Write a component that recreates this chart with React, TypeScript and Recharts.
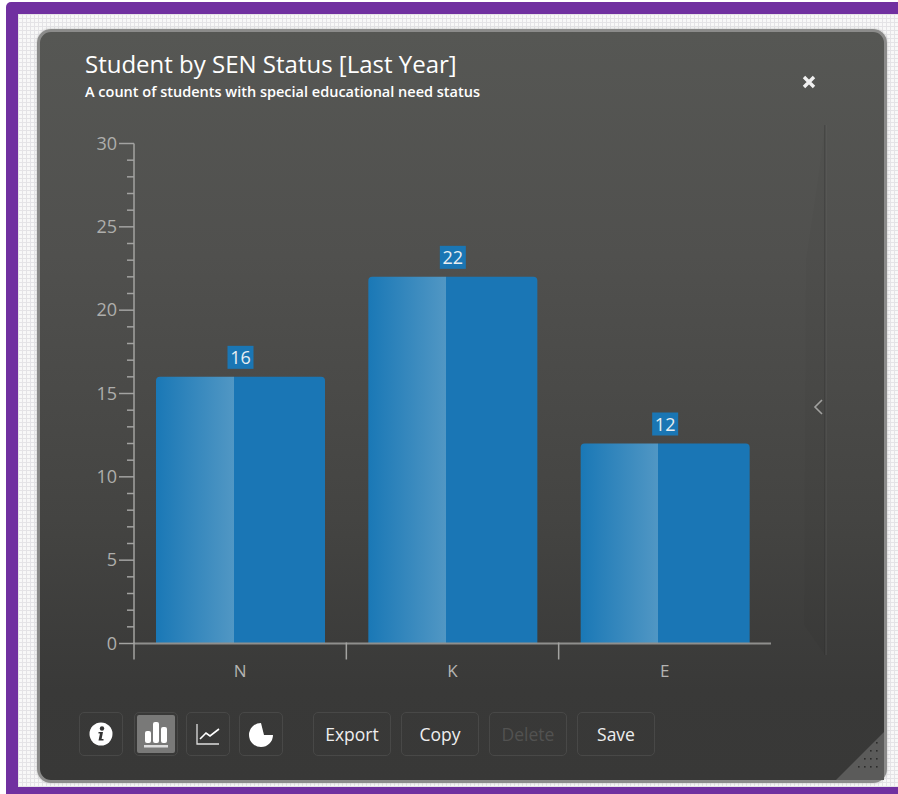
import React from 'react';
import { BarChart, Bar, XAxis, YAxis, LabelList } from 'recharts';

const senCodes = ['N', 'K', 'E'];
const studentCounts = [16, 22, 12];
const countTicks = [
  0, 1, 2, 3, 4, 5, 6, 7, 8, 9, 10, 11, 12, 13, 14, 15, 16, 17, 18, 19, 20, 21, 22, 23, 24, 25, 26, 27, 28,
  29, 30,
];
const chartTypeButtons = ['info', 'bar', 'line', 'pie'];
const actionButtons = ['Export', 'Copy', 'Delete', 'Save'];

const chartData = senCodes.map((code, i) => ({ code, count: studentCounts[i] }));

const FONT = '"Open Sans", sans-serif';
const AXIS = '#a3a3a1';
const BAND = 637 / senCodes.length;

const CountTick = ({ x, y, payload }: any) => {
  const major = payload.value % 5 === 0;
  return (
    <g>
      <line x1={major ? x - 15 : x - 7} x2={x} y1={y} y2={y} stroke={AXIS} strokeWidth={1.5} />
      {major && (
        <text x={x - 17} y={y + 6} textAnchor="end" fontFamily={FONT} fontSize={18} fill="#aeaeac">
          {payload.value}
        </text>
      )}
    </g>
  );
};

// tick marks sit on the left edge of each band, the label in its middle
const CodeTick = ({ x, y, payload }: any) => (
  <g>
    <line x1={x - BAND / 2} x2={x - BAND / 2} y1={y - 1} y2={y + 16} stroke={AXIS} strokeWidth={1.5} />
    <text x={x} y={y + 33} textAnchor="middle" fontFamily={FONT} fontSize={17} fill="#b4b4b2">
      {payload.value}
    </text>
  </g>
);

const ValueBadge = ({ x, y, width, value }: any) => {
  const cx = x + width / 2;
  return (
    <g>
      <rect x={cx - 13} y={y - 31} width={26} height={23} fill="#1a76b4" />
      <text x={cx} y={y - 13} textAnchor="middle" fontFamily={FONT} fontSize={18} fill="#e8eef2">
        {value}
      </text>
    </g>
  );
};

const ButtonIcon = ({ kind }: { kind: string }) => {
  if (kind === 'info') {
    return (
      <svg width={26} height={26} viewBox="0 0 26 26">
        <circle cx={13} cy={13} r={11.5} fill="#fff" />
        <circle cx={14} cy={7.5} r={2.2} fill="#333" />
        <path d="M10.5 11 H15 L13.6 18 H15.5 V19.5 H10.5 L12 12.5 H10.5 Z" fill="#333" />
      </svg>
    );
  }
  if (kind === 'bar') {
    return (
      <svg width={26} height={28} viewBox="0 0 26 28">
        <rect x={2} y={11} width={6} height={12} rx={2} fill="#fff" />
        <rect x={10} y={2} width={6} height={21} rx={2} fill="#fff" />
        <rect x={18} y={7} width={6} height={16} rx={2} fill="#fff" />
        <rect x={1} y={25} width={24} height={2.5} fill="#ddd" />
      </svg>
    );
  }
  if (kind === 'line') {
    return (
      <svg width={26} height={24} viewBox="0 0 26 24">
        <path d="M2 2 V22 H24" fill="none" stroke="#ddd" strokeWidth={1.3} />
        <path d="M5 17 L11 11 L15 14 L24 7" fill="none" stroke="#fff" strokeWidth={1.6} />
      </svg>
    );
  }
  return (
    <svg width={26} height={26} viewBox="0 0 26 26">
      <path d="M13 2 A12 12 0 1 0 25 14 L16 14 L13 2 Z" fill="#fff" />
    </svg>
  );
};

const buttonBase: React.CSSProperties = {
  position: 'absolute',
  top: 712,
  height: 44,
  boxSizing: 'border-box',
  border: '1px solid #484847',
  borderRadius: 5,
  display: 'flex',
  alignItems: 'center',
  justifyContent: 'center',
};

const typeButtonLeft = [79, 134, 186, 239];
const actionButtonLeft = [313, 401, 489, 577];
const actionButtonWidth = [78, 78, 78, 78];
const gripDots = [[40, 10], [34, 18], [40, 18], [28, 26], [34, 26], [40, 26], [22, 34], [28, 34], [34, 34], [40, 34]];

export default function App() {
  return (
    <div
      style={{
        position: 'absolute',
        left: 0,
        top: 0,
        width: 898,
        height: 794,
        overflow: 'hidden',
        background: '#fff',
        fontFamily: FONT,
      }}
    >
      {/* purple page frame */}
      <div style={{ position: 'absolute', left: 6, top: 2, width: 892, height: 792, background: '#7030a0', borderRadius: '5px 0 0 0' }} />
      {/* dotted page background */}
      <div
        style={{
          position: 'absolute',
          left: 18,
          top: 14,
          width: 880,
          height: 773,
          backgroundColor: '#f8f8f8',
          backgroundImage:
            'linear-gradient(#e4e3e6 1px, transparent 1px), linear-gradient(90deg, #e4e3e6 1px, transparent 1px)',
          backgroundSize: '4px 4px',
        }}
      />
      {/* dialog panel */}
      <div
        style={{
          position: 'absolute',
          left: 37,
          top: 29,
          width: 850,
          height: 754,
          boxSizing: 'border-box',
          border: '3px solid #8b8b8a',
          borderRadius: 14,
          background: 'linear-gradient(180deg, #565754 0%, #50504e 30%, #444442 65%, #393938 88%, #383837 100%)',
          boxShadow: '0 0 3px #bdbdbd',
        }}
      />
      <div style={{ position: 'absolute', left: 85, top: 48, fontSize: 24, lineHeight: '32px', color: '#fff', whiteSpace: 'nowrap' }}>
        Student by SEN Status [Last Year]
      </div>
      <div style={{ position: 'absolute', left: 85, top: 83, fontSize: 14.5, lineHeight: '18px', fontWeight: 600, color: '#fff', whiteSpace: 'nowrap' }}>
        A count of students with special educational need status
      </div>
      <svg style={{ position: 'absolute', left: 801, top: 74 }} width={16} height={16} viewBox="0 0 16 16">
        <path d="M3 3 L13 13 M13 3 L3 13" stroke="#f0f0f0" strokeWidth={3.4} />
      </svg>

      {/* collapsed side drawer */}
      <svg style={{ position: 'absolute', left: 790, top: 120 }} width={45} height={545}>
        <path d="M35 5 L35 535 L14 505 L16 140 L28 60 Z" fill="#000" opacity={0.025} />
        <line x1={35} x2={35} y1={5} y2={535} stroke="#2f2f2e" strokeWidth={1} opacity={0.6} />
        <line x1={36} x2={36} y1={5} y2={535} stroke="#6c6c6a" strokeWidth={1} opacity={0.4} />
        <path d="M32 280 L25 287 L32 294" fill="none" stroke="#a2a2a0" strokeWidth={1.6} />
      </svg>

      <div style={{ position: 'absolute', left: 0, top: 0 }}>
        <BarChart
          width={898}
          height={794}
          data={chartData}
          margin={{ top: 143.5, right: 127, bottom: 110.5, left: 74 }}
        >
          <defs>
            <linearGradient id="barSheen" x1="0" y1="0" x2="1" y2="0">
              <stop offset="0" stopColor="#1a78b6" />
              <stop offset="0.46" stopColor="#5197c4" />
              <stop offset="0.46" stopColor="#1a76b5" />
              <stop offset="1" stopColor="#1a76b5" />
            </linearGradient>
          </defs>
          <XAxis
            dataKey="code"
            height={40}
            interval={0}
            tick={<CodeTick />}
            tickLine={false}
            tickSize={0}
            tickMargin={0}
            axisLine={{ stroke: '#8f8f8d', strokeWidth: 2 }}
          />
          <YAxis
            width={60}
            domain={[0, 30]}
            ticks={countTicks}
            interval={0}
            tick={<CountTick />}
            tickLine={false}
            tickSize={0}
            tickMargin={0}
            axisLine={{ stroke: AXIS, strokeWidth: 1.5 }}
          />
          <Bar dataKey="count" barSize={169} fill="url(#barSheen)" radius={[4, 4, 0, 0]} isAnimationActive={false}>
            <LabelList dataKey="count" content={<ValueBadge />} />
          </Bar>
        </BarChart>
      </div>

      {chartTypeButtons.map((kind, i) => (
        <div
          key={kind}
          style={{
            ...buttonBase,
            left: typeButtonLeft[i],
            width: 44,
          }}
        >
          {kind === 'bar' && (
            <div style={{ position: 'absolute', left: 2, top: 2, right: 2, bottom: 2, background: '#797978', borderRadius: 2 }} />
          )}
          <div style={{ position: 'relative', display: 'flex' }}>
            <ButtonIcon kind={kind} />
          </div>
        </div>
      ))}
      {actionButtons.map((label, i) => (
        <div
          key={label}
          style={{
            ...buttonBase,
            left: actionButtonLeft[i],
            width: actionButtonWidth[i],
            fontSize: 17.5,
            color: label === 'Delete' ? '#525251' : '#eeeeee',
          }}
        >
          {label}
        </div>
      ))}

      {/* resize grip */}
      <svg style={{ position: 'absolute', left: 836, top: 732 }} width={48} height={48}>
        <path d="M48 0 L48 48 L0 48 Z" fill="#5b5b5a" />
        {gripDots.map(([dx, dy]) => (
          <rect key={`${dx}-${dy}`} x={dx} y={dy} width={1.6} height={1.6} fill="#2c2c2b" />
        ))}
      </svg>
    </div>
  );
}
